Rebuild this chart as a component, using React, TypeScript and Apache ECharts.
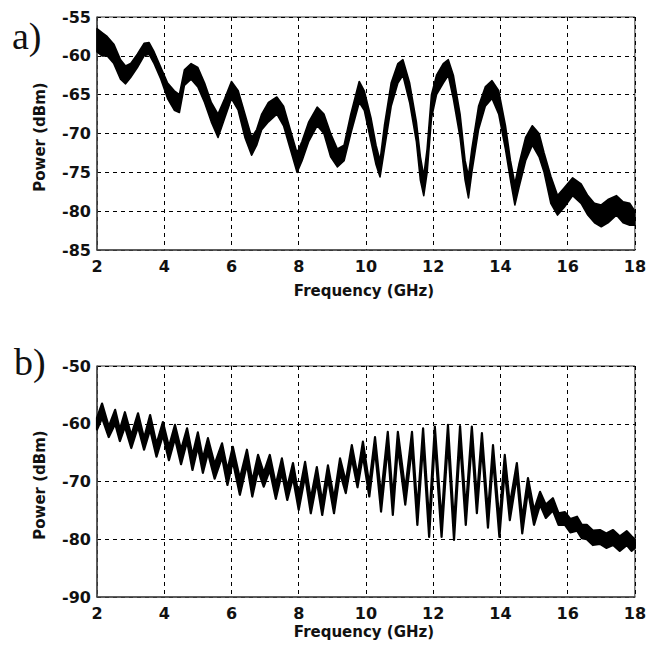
import React, { useEffect, useRef } from "react";
import * as echarts from "echarts";

// ---------- Data ----------
// Panel a): frequency (GHz), upper and lower edge of the noisy trace (dBm)
const freqA = [2.0, 2.15, 2.3, 2.5, 2.7, 2.85, 3.0, 3.2, 3.4, 3.55, 3.7, 3.9, 4.1, 4.3, 4.45, 4.6, 4.8, 5.0, 5.2, 5.4, 5.6, 5.8, 6.0, 6.2, 6.4, 6.6, 6.75, 6.9, 7.1, 7.35, 7.55, 7.75, 7.95, 8.1, 8.3, 8.55, 8.75, 8.95, 9.15, 9.35, 9.55, 9.8, 9.95, 10.15, 10.3, 10.42, 10.55, 10.75, 10.95, 11.1, 11.3, 11.5, 11.62, 11.72, 11.82, 11.95, 12.1, 12.3, 12.45, 12.6, 12.8, 12.95, 13.05, 13.15, 13.35, 13.55, 13.75, 13.95, 14.15, 14.3, 14.43, 14.55, 14.75, 14.95, 15.15, 15.3, 15.5, 15.7, 15.9, 16.15, 16.4, 16.6, 16.8, 17.0, 17.2, 17.45, 17.65, 17.85, 18.0];
const upperA = [-56.5, -57, -57.5, -58.5, -60.5, -61.3, -61, -59.8, -58.4, -58.3, -59.5, -61.5, -63.5, -64.5, -65, -61.8, -61, -61.5, -63.5, -66, -67.5, -65.5, -63.3, -64.5, -67.5, -70.5, -69.5, -67.5, -66, -65.3, -66.5, -69.5, -72.5, -71, -68.5, -66.6, -67.5, -70, -72, -71.5, -67.5, -63.3, -64.5, -68, -71.5, -73.5, -69, -63.5, -61, -60.5, -63.5, -68.5, -73, -75.5, -72, -65, -62.5, -61, -60.5, -62.5, -67.5, -73.5, -75.5, -72, -66.5, -64, -63.2, -64.5, -69, -73.5, -76.5, -74, -70.5, -69, -70, -72.5, -75.5, -78, -77, -75.7, -76.5, -78, -79, -79.2, -78.5, -78, -78.8, -79, -80];
const lowerA = [-59.5, -60, -60, -61, -63, -63.6, -62.8, -61.5, -60, -59.8, -61, -63, -65.5, -67, -67.3, -63.8, -63, -64, -66, -68.5, -70.5, -68, -65.5, -67, -70.5, -72.8, -71.5, -69.5, -68.5, -67.5, -69, -72, -75, -73.5, -71, -69, -70, -73, -74.3, -73.5, -70, -66, -67, -71, -74, -75.6, -72, -66.5, -63.5, -62.5, -66, -71, -76, -78, -75, -68, -65, -63.5, -62.5, -65.5, -70.5, -76, -78.3, -75, -69.5, -66.5, -65.5, -67.5, -72, -76, -79.2, -77, -73.5, -71.5, -73, -75, -79, -80.5, -79.5, -78, -79, -80.5, -81.5, -82, -81.5, -80.5, -81.5, -81.8, -81.8];

// Panel b)
const freqB = [2.0, 2.15, 2.35, 2.54, 2.68, 2.83, 3.02, 3.22, 3.4, 3.58, 3.77, 3.96, 4.14, 4.32, 4.5, 4.68, 4.84, 5.0, 5.15, 5.3, 5.5, 5.72, 5.88, 6.04, 6.25, 6.46, 6.62, 6.79, 6.96, 7.14, 7.32, 7.5, 7.66, 7.83, 8.0, 8.19, 8.36, 8.54, 8.7, 8.87, 9.05, 9.23, 9.4, 9.58, 9.75, 9.91, 10.1, 10.27, 10.45, 10.65, 10.8, 10.95, 11.17, 11.37, 11.53, 11.7, 11.88, 12.05, 12.25, 12.44, 12.62, 12.8, 12.97, 13.15, 13.3, 13.45, 13.63, 13.78, 13.97, 14.13, 14.28, 14.49, 14.65, 14.82, 15.0, 15.18, 15.35, 15.56, 15.73, 15.92, 16.08, 16.28, 16.42, 16.57, 16.75, 16.96, 17.15, 17.35, 17.55, 17.76, 17.9, 18.0];
const upperB = [-59, -56.5, -60.5, -57.6, -61, -58, -62, -58.2, -62.5, -58.5, -63.5, -59.7, -64, -60.2, -64.5, -60.8, -65.5, -61.5, -66, -62.5, -67, -63.4, -68, -64, -69.5, -64.5, -70, -65.4, -68.5, -65.4, -70.5, -66, -71, -66.8, -72.5, -66.6, -73, -67.5, -73.5, -67.2, -73, -66, -70, -63.7, -69, -63.1, -70.5, -62.3, -72.5, -61.4, -73, -61.4, -71.5, -61.4, -75, -60.8, -77, -60.5, -77, -60.2, -77.5, -60.4, -75, -60.5, -73, -61.6, -75.5, -63.7, -77, -65.4, -74, -66.8, -76.5, -69.4, -75, -71.8, -74, -72.9, -75.5, -75.3, -76.5, -76.1, -77.5, -77.5, -78.5, -78.4, -79, -78.4, -79.5, -78.6, -79.5, -80];
const lowerB = [-61, -59, -62.3, -60, -63, -60.5, -64.2, -60.5, -64.5, -61, -65.7, -62, -66.3, -62.5, -67, -63, -68, -64, -68.5, -65, -69.5, -65.8, -70.6, -66.5, -72.3, -67, -72.6, -68, -70.9, -68, -73, -68.5, -73.2, -69.3, -74.9, -69, -75.5, -70, -75.8, -69.5, -75.5, -68.5, -72, -66, -71, -65.5, -72.6, -64.5, -75.2, -64, -75.8, -64, -74, -64, -77.5, -63.5, -79.6, -63, -79.6, -63, -80.1, -63, -77.5, -63, -75.5, -64, -78, -66, -79.6, -68, -76.7, -69, -79, -71.5, -77.5, -74, -76.3, -75, -77.5, -77.5, -78.8, -78.5, -79.8, -80, -81, -80.8, -81.5, -81, -82, -81, -82, -81.5];

const xTicks = [2, 4, 6, 8, 10, 12, 14, 16, 18];
const yRangeA = [-85, -55];
const yRangeB = [-90, -50];

// ---------- Chart ----------
const FONT = "'DejaVu Sans', 'Liberation Sans', Arial, sans-serif";
const SERIF = "'Liberation Serif', 'Times New Roman', serif";

function bandSeries(xs: number[], up: number[], lo: number[], gridIndex: number, lw: number) {
  return {
    type: "custom",
    xAxisIndex: gridIndex,
    yAxisIndex: gridIndex,
    coordinateSystem: "cartesian2d",
    silent: true,
    data: [[xs[0], up[0]]],
    encode: { x: 0, y: 1 },
    renderItem: (_params: any, api: any) => {
      const pts: number[][] = [];
      for (let i = 0; i < xs.length; i++) pts.push(api.coord([xs[i], up[i]]));
      for (let i = xs.length - 1; i >= 0; i--) pts.push(api.coord([xs[i], lo[i]]));
      return {
        type: "polygon",
        shape: { points: pts },
        style: { fill: "#000", stroke: "#000", lineWidth: lw, lineJoin: "round" },
      };
    },
    z: 5,
  };
}

export default function App() {
  const ref = useRef<HTMLDivElement>(null);
  useEffect(() => {
    document.body.style.margin = "0";
    if (!ref.current) return;
    const chart = echarts.init(ref.current, null, { renderer: "svg" });
    const axisLabel = { fontFamily: FONT, fontWeight: "bold", fontSize: 16, color: "#111" };
    const splitLine = { show: true, lineStyle: { color: "#000", type: [4, 4], width: 1 } };
    const axisLine = { show: true, onZero: false, lineStyle: { color: "#4a4a4a", width: 1.5 } };
    const mkX = (gi: number) => ({
      type: "value",
      gridIndex: gi,
      min: xTicks[0],
      max: xTicks[xTicks.length - 1],
      interval: 2,
      axisLine,
      axisTick: { show: false },
      axisLabel: { ...axisLabel, margin: 8 },
      splitLine,
    });
    const mkY = (gi: number, r: number[], iv: number) => ({
      type: "value",
      gridIndex: gi,
      min: r[0],
      max: r[1],
      interval: iv,
      axisLine,
      axisTick: { show: false },
      axisLabel: { ...axisLabel, margin: 6 },
      splitLine,
    });
    const txt = (text: string, x: number, y: number, extra: any = {}) => ({
      type: "text",
      x,
      y,
      ...extra,
      style: {
        text,
        fontFamily: FONT,
        fontWeight: "bold",
        fontSize: 15,
        fill: "#111",
        textAlign: "center",
        textVerticalAlign: "middle",
      },
    });
    chart.setOption({
      animation: false,
      backgroundColor: "#fff",
      grid: [
        { left: 97, top: 17, width: 538, height: 233, show: true, borderColor: "#333", borderWidth: 1 },
        { left: 97, top: 366, width: 538, height: 231, show: true, borderColor: "#333", borderWidth: 1 },
      ],
      xAxis: [mkX(0), mkX(1)],
      yAxis: [mkY(0, yRangeA, 5), mkY(1, yRangeB, 10)],
      series: [bandSeries(freqA, upperA, lowerA, 0, 1.6), bandSeries(freqB, upperB, lowerB, 1, 2.2)],
      graphic: [
        txt("Frequency (GHz)", 364, 291),
        txt("Frequency (GHz)", 364, 632),
        txt("Power (dBm)", 40, 137, { rotation: Math.PI / 2 }),
        txt("Power (dBm)", 40, 485, { rotation: Math.PI / 2 }),
        {
          type: "text",
          x: 12,
          y: 36,
          style: { text: "a)", fontFamily: SERIF, fontSize: 38, fill: "#111", textAlign: "left", textVerticalAlign: "middle" },
        },
        {
          type: "text",
          x: 14,
          y: 362,
          style: { text: "b)", fontFamily: SERIF, fontSize: 38, fill: "#111", textAlign: "left", textVerticalAlign: "middle" },
        },
      ],
    });
    return () => chart.dispose();
  }, []);
  return <div ref={ref} style={{ width: 649, height: 647 }} />;
}
